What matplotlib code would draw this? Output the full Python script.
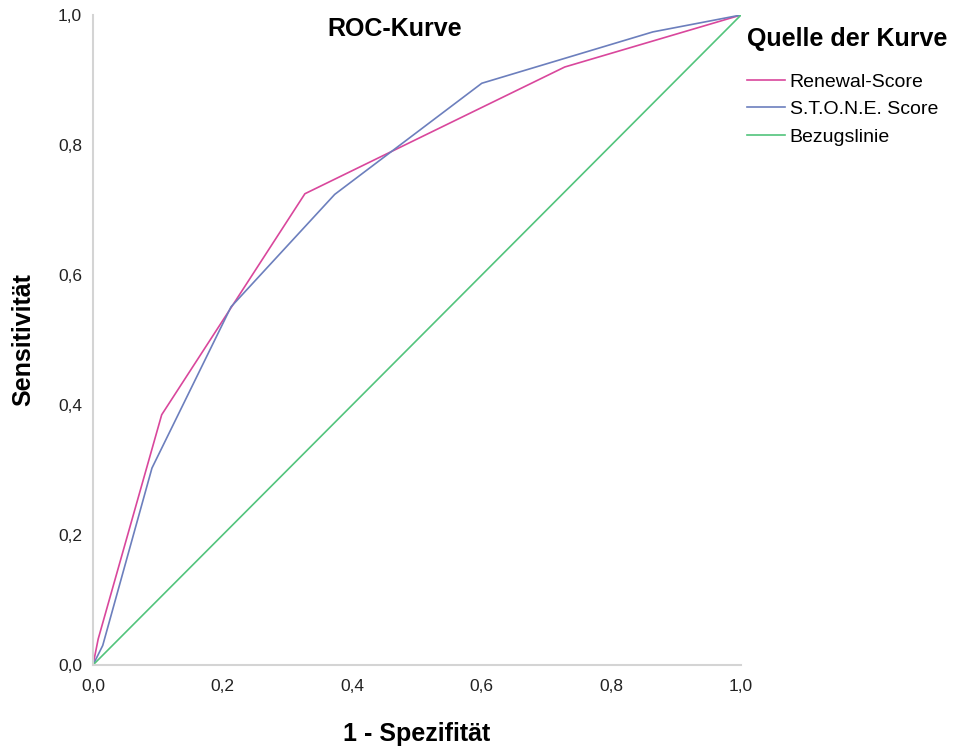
import matplotlib
matplotlib.use("Agg")
import matplotlib.pyplot as plt
from matplotlib.ticker import FuncFormatter

plt.rcParams['font.family'] = ['Liberation Sans', 'DejaVu Sans']

# ROC points (1 - specificity, sensitivity)
renewal_fpr = [0.0, 0.008, 0.106, 0.327, 0.728, 1.0]
renewal_tpr = [0.0, 0.04, 0.385, 0.725, 0.920, 1.0]

stone_fpr = [0.0, 0.015, 0.091, 0.213, 0.373, 0.600, 0.864, 1.0]
stone_tpr = [0.0, 0.03, 0.303, 0.551, 0.724, 0.895, 0.974, 1.0]

ref_line = [0.0, 1.0]

labels = ['Renewal-Score', 'S.T.O.N.E. Score', 'Bezugslinie']
colors = ['#d9479c', '#6c7fbd', '#52c47c']
ticks = [0.0, 0.2, 0.4, 0.6, 0.8, 1.0]

fig = plt.figure(figsize=(9.64, 7.51), dpi=100)
ax = fig.add_axes([93 / 964, 86 / 751, 648 / 964, 650 / 751])

ax.plot(renewal_fpr, renewal_tpr, color=colors[0], lw=1.2, label=labels[0])
ax.plot(stone_fpr, stone_tpr, color=colors[1], lw=1.2, label=labels[1])
ax.plot(ref_line, ref_line, color=colors[2], lw=1.2, label=labels[2])

ax.set_xlim(0, 1)
ax.set_ylim(0, 1)
ax.set_xticks(ticks)
ax.set_yticks(ticks)
fmt = FuncFormatter(lambda v, p: f'{v:.1f}'.replace('.', ','))
ax.xaxis.set_major_formatter(fmt)
ax.yaxis.set_major_formatter(fmt)
ax.tick_params(length=0, labelsize=12.5, colors='#222222')
ax.tick_params(axis='x', pad=10)
ax.tick_params(axis='y', pad=8)

for s in ['top', 'right']:
    ax.spines[s].set_visible(False)
for s in ['left', 'bottom']:
    ax.spines[s].set_color('#d4d4d4')
    ax.spines[s].set_linewidth(1.5)

ax.set_xlabel('1 - Spezifität', fontsize=18, fontweight='bold', labelpad=20)
ax.set_ylabel('Sensitivität', fontsize=18, fontweight='bold', labelpad=16)

fig.text(395 / 964, 1 - 29 / 751, 'ROC-Kurve', fontsize=18, fontweight='bold',
         ha='center', va='center')

leg = ax.legend(loc='upper left', bbox_to_anchor=(747 / 964, 1 - 27 / 751),
                bbox_transform=fig.transFigure, frameon=False, fontsize=14,
                title='Quelle der Kurve', alignment='left',
                title_fontproperties={'weight': 'bold', 'size': 18},
                handlelength=1.95, handletextpad=0.25, labelspacing=0.5,
                borderpad=0, borderaxespad=0)
leg._legend_box.sep = 16

fig.savefig('out.png', dpi=100)
